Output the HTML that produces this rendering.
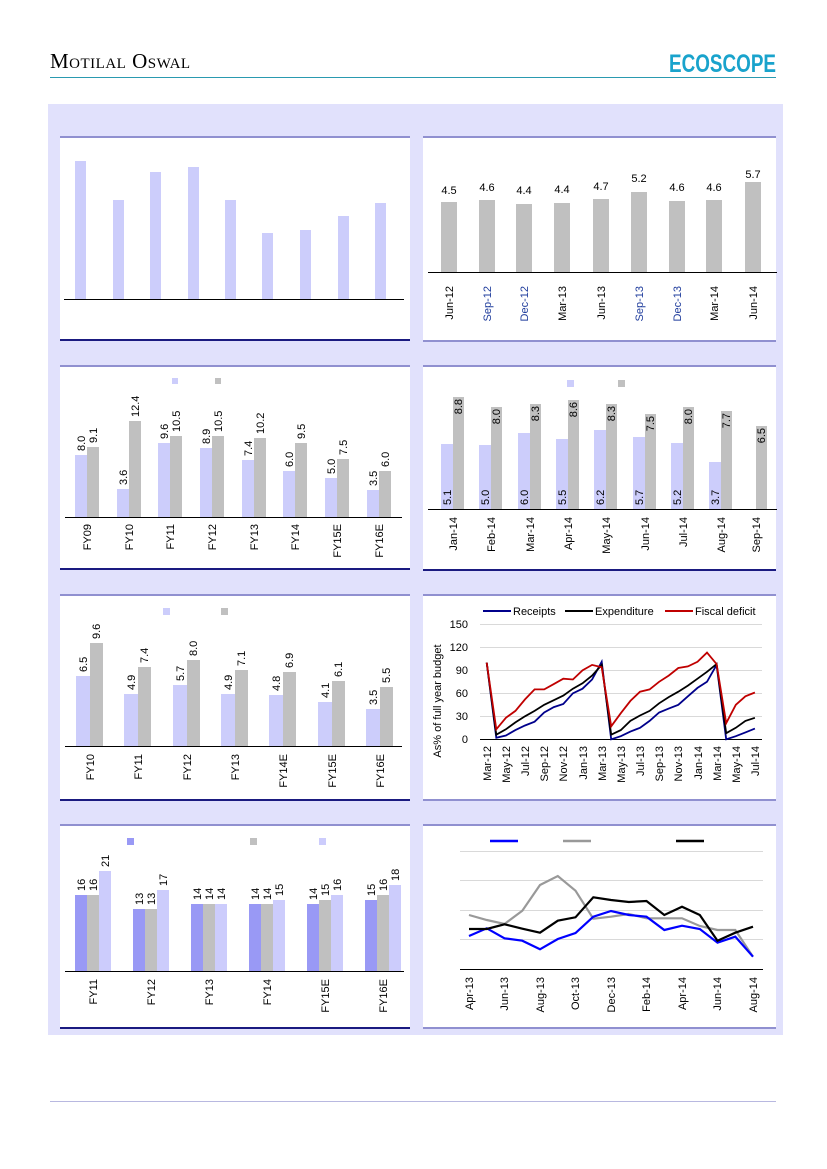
<!DOCTYPE html>
<html><head><meta charset="utf-8"><style>
html,body{margin:0;padding:0;background:#fff}
svg{display:block}
text{font-family:"Liberation Sans",sans-serif;fill:#000}
</style></head><body>
<svg width="827" height="1169" viewBox="0 0 827 1169" xmlns="http://www.w3.org/2000/svg">
<text x="50" y="68" style="font-family:'Liberation Serif',serif;font-variant:small-caps;font-size:21px;letter-spacing:0.5px" fill="#222">Motilal Oswal</text>
<text x="669" y="72" textLength="107" lengthAdjust="spacingAndGlyphs" style="font-weight:bold;font-size:25px;fill:#19a3cc">ECOSCOPE</text>
<line x1="50" y1="77.5" x2="776" y2="77.5" stroke="#2a9ab0" stroke-width="1"/>
<line x1="50" y1="1101.5" x2="776" y2="1101.5" stroke="#b8b8e0" stroke-width="1"/>
<rect x="48" y="104" width="735" height="931" fill="#e1e1fc"/>
<g fill="#fff">
<rect x="60" y="137" width="350" height="203"/><rect x="423" y="137" width="353" height="204"/>
<rect x="60" y="366" width="350" height="203"/><rect x="423" y="366" width="353" height="204"/>
<rect x="60" y="595" width="350" height="205"/><rect x="423" y="595" width="353" height="205"/>
<rect x="60" y="825" width="350" height="203"/><rect x="423" y="825" width="353" height="203"/>
</g>
<g stroke="#9090d0" stroke-width="2">
<line x1="60" y1="137" x2="410" y2="137"/><line x1="423" y1="137" x2="776" y2="137"/>
<line x1="60" y1="366" x2="410" y2="366"/><line x1="423" y1="366" x2="776" y2="366"/>
<line x1="60" y1="595" x2="410" y2="595"/><line x1="423" y1="595" x2="776" y2="595"/>
<line x1="60" y1="825" x2="410" y2="825"/><line x1="423" y1="825" x2="776" y2="825"/>
<line x1="423" y1="341" x2="776" y2="341"/><line x1="423" y1="800" x2="776" y2="800"/><line x1="423" y1="1028" x2="776" y2="1028"/>
</g>
<g stroke="#1a1a80" stroke-width="2">
<line x1="60" y1="340" x2="410" y2="340"/><line x1="60" y1="569" x2="410" y2="569"/><line x1="423" y1="570" x2="776" y2="570"/><line x1="60" y1="800" x2="410" y2="800"/><line x1="60" y1="1028" x2="410" y2="1028"/>
</g>

<g fill="#cccdfb">
<rect x="75" y="161" width="11" height="138"/><rect x="113" y="200" width="11" height="99"/><rect x="150" y="172" width="11" height="127"/><rect x="188" y="167" width="11" height="132"/><rect x="225" y="200" width="11" height="99"/><rect x="262" y="233" width="11" height="66"/><rect x="300" y="230" width="11" height="69"/><rect x="338" y="216" width="11" height="83"/><rect x="375" y="203" width="11" height="96"/>
</g>
<line x1="64" y1="299.5" x2="404" y2="299.5" stroke="#000"/>

<g fill="#c0c0c0">
<rect x="441" y="202" width="16" height="70"/><rect x="479" y="200" width="16" height="72"/><rect x="516" y="204" width="16" height="68"/><rect x="554" y="203" width="16" height="69"/><rect x="593" y="199" width="16" height="73"/><rect x="631" y="192" width="16" height="80"/><rect x="669" y="201" width="16" height="71"/><rect x="706" y="200" width="16" height="72"/><rect x="745" y="182" width="16" height="90"/>
</g>
<line x1="428" y1="272.5" x2="777" y2="272.5" stroke="#000"/>
<g font-size="11" text-anchor="middle">
<text x="449" y="194">4.5</text><text x="487" y="191">4.6</text><text x="524" y="194">4.4</text><text x="562" y="193">4.4</text><text x="601" y="190">4.7</text><text x="639" y="182">5.2</text><text x="677" y="191">4.6</text><text x="714" y="191">4.6</text><text x="753" y="178">5.7</text>
</g>
<g font-size="11" text-anchor="end">
<text transform="translate(453,286) rotate(-90)">Jun-12</text><text transform="translate(491,286) rotate(-90)" style="fill:#1f3c9c">Sep-12</text><text transform="translate(528,286) rotate(-90)" style="fill:#1f3c9c">Dec-12</text><text transform="translate(566,286) rotate(-90)">Mar-13</text><text transform="translate(605,286) rotate(-90)">Jun-13</text><text transform="translate(643,286) rotate(-90)" style="fill:#1f3c9c">Sep-13</text><text transform="translate(681,286) rotate(-90)" style="fill:#1f3c9c">Dec-13</text><text transform="translate(718,286) rotate(-90)">Mar-14</text><text transform="translate(757,286) rotate(-90)">Jun-14</text>
</g>

<rect x="172" y="378" width="6" height="6" fill="#cccdfb"/><rect x="215" y="378" width="6" height="6" fill="#c0c0c0"/>
<g fill="#cccdfb">
<rect x="75" y="455" width="12" height="62"/><rect x="117" y="489" width="12" height="28"/><rect x="158" y="443" width="12" height="74"/><rect x="200" y="448" width="12" height="69"/><rect x="242" y="460" width="12" height="57"/><rect x="283" y="471" width="12" height="46"/><rect x="325" y="478" width="12" height="39"/><rect x="367" y="490" width="12" height="27"/>
</g>
<g fill="#c0c0c0">
<rect x="87" y="447" width="12" height="70"/><rect x="129" y="421" width="12" height="96"/><rect x="170" y="436" width="12" height="81"/><rect x="212" y="436" width="12" height="81"/><rect x="254" y="438" width="12" height="79"/><rect x="295" y="443" width="12" height="74"/><rect x="337" y="459" width="12" height="58"/><rect x="379" y="471" width="12" height="46"/>
</g>
<line x1="65" y1="517.5" x2="402" y2="517.5" stroke="#000"/>
<g font-size="11">
<text transform="translate(85,451) rotate(-90)">8.0</text><text transform="translate(97,443) rotate(-90)">9.1</text>
<text transform="translate(127,485) rotate(-90)">3.6</text><text transform="translate(139,417) rotate(-90)">12.4</text>
<text transform="translate(168,439) rotate(-90)">9.6</text><text transform="translate(180,432) rotate(-90)">10.5</text>
<text transform="translate(210,444) rotate(-90)">8.9</text><text transform="translate(222,432) rotate(-90)">10.5</text>
<text transform="translate(252,456) rotate(-90)">7.4</text><text transform="translate(264,434) rotate(-90)">10.2</text>
<text transform="translate(293,467) rotate(-90)">6.0</text><text transform="translate(305,439) rotate(-90)">9.5</text>
<text transform="translate(335,474) rotate(-90)">5.0</text><text transform="translate(347,455) rotate(-90)">7.5</text>
<text transform="translate(377,486) rotate(-90)">3.5</text><text transform="translate(389,467) rotate(-90)">6.0</text>
</g>
<g font-size="11" text-anchor="end">
<text transform="translate(91,524) rotate(-90)">FY09</text><text transform="translate(133,524) rotate(-90)">FY10</text><text transform="translate(174,524) rotate(-90)">FY11</text><text transform="translate(216,524) rotate(-90)">FY12</text><text transform="translate(258,524) rotate(-90)">FY13</text><text transform="translate(299,524) rotate(-90)">FY14</text><text transform="translate(341,524) rotate(-90)">FY15E</text><text transform="translate(383,524) rotate(-90)">FY16E</text>
</g>

<rect x="567" y="380" width="7" height="7" fill="#cccdfb"/><rect x="618" y="380" width="7" height="7" fill="#c0c0c0"/>
<g fill="#cccdfb">
<rect x="441" y="444" width="12" height="65"/><rect x="479" y="445" width="12" height="64"/><rect x="518" y="433" width="12" height="76"/><rect x="556" y="439" width="12" height="70"/><rect x="594" y="430" width="12" height="79"/><rect x="633" y="437" width="12" height="72"/><rect x="671" y="443" width="12" height="66"/><rect x="709" y="462" width="12" height="47"/>
</g>
<g fill="#c0c0c0">
<rect x="453" y="397" width="11" height="112"/><rect x="491" y="407" width="11" height="102"/><rect x="530" y="404" width="11" height="105"/><rect x="568" y="400" width="11" height="109"/><rect x="606" y="404" width="11" height="105"/><rect x="645" y="414" width="11" height="95"/><rect x="683" y="407" width="11" height="102"/><rect x="721" y="411" width="11" height="98"/><rect x="756" y="426" width="11" height="83"/>
</g>
<line x1="428" y1="509.5" x2="777" y2="509.5" stroke="#000"/>
<g font-size="11">
<text transform="translate(451,505) rotate(-90)">5.1</text><text transform="translate(489,505) rotate(-90)">5.0</text><text transform="translate(528,505) rotate(-90)">6.0</text><text transform="translate(566,505) rotate(-90)">5.5</text><text transform="translate(604,505) rotate(-90)">6.2</text><text transform="translate(643,505) rotate(-90)">5.7</text><text transform="translate(681,505) rotate(-90)">5.2</text><text transform="translate(719,505) rotate(-90)">3.7</text>
</g>
<g font-size="11" text-anchor="end">
<text transform="translate(462,399) rotate(-90)">8.8</text><text transform="translate(500,409) rotate(-90)">8.0</text><text transform="translate(539,406) rotate(-90)">8.3</text><text transform="translate(577,402) rotate(-90)">8.6</text><text transform="translate(615,406) rotate(-90)">8.3</text><text transform="translate(654,416) rotate(-90)">7.5</text><text transform="translate(692,409) rotate(-90)">8.0</text><text transform="translate(730,413) rotate(-90)">7.7</text><text transform="translate(765,428) rotate(-90)">6.5</text>
<text transform="translate(457,517) rotate(-90)">Jan-14</text><text transform="translate(495,517) rotate(-90)">Feb-14</text><text transform="translate(534,517) rotate(-90)">Mar-14</text><text transform="translate(572,517) rotate(-90)">Apr-14</text><text transform="translate(610,517) rotate(-90)">May-14</text><text transform="translate(649,517) rotate(-90)">Jun-14</text><text transform="translate(687,517) rotate(-90)">Jul-14</text><text transform="translate(725,517) rotate(-90)">Aug-14</text><text transform="translate(760,517) rotate(-90)">Sep-14</text>
</g>

<rect x="163" y="608" width="7" height="7" fill="#cccdfb"/><rect x="221" y="608" width="7" height="7" fill="#c0c0c0"/>
<g fill="#cccdfb">
<rect x="76" y="676" width="14" height="70"/><rect x="124" y="694" width="14" height="52"/><rect x="173" y="685" width="14" height="61"/><rect x="221" y="694" width="14" height="52"/><rect x="269" y="695" width="14" height="51"/><rect x="318" y="702" width="14" height="44"/><rect x="366" y="709" width="14" height="37"/>
</g>
<g fill="#c0c0c0">
<rect x="90" y="643" width="13" height="103"/><rect x="138" y="667" width="13" height="79"/><rect x="187" y="660" width="13" height="86"/><rect x="235" y="670" width="13" height="76"/><rect x="283" y="672" width="13" height="74"/><rect x="332" y="681" width="13" height="65"/><rect x="380" y="687" width="13" height="59"/>
</g>
<line x1="65" y1="746.5" x2="402" y2="746.5" stroke="#000"/>
<g font-size="11">
<text transform="translate(87,672) rotate(-90)">6.5</text><text transform="translate(100,639) rotate(-90)">9.6</text>
<text transform="translate(135,690) rotate(-90)">4.9</text><text transform="translate(148,663) rotate(-90)">7.4</text>
<text transform="translate(184,681) rotate(-90)">5.7</text><text transform="translate(197,656) rotate(-90)">8.0</text>
<text transform="translate(232,690) rotate(-90)">4.9</text><text transform="translate(245,666) rotate(-90)">7.1</text>
<text transform="translate(280,691) rotate(-90)">4.8</text><text transform="translate(293,668) rotate(-90)">6.9</text>
<text transform="translate(329,698) rotate(-90)">4.1</text><text transform="translate(342,677) rotate(-90)">6.1</text>
<text transform="translate(377,705) rotate(-90)">3.5</text><text transform="translate(390,683) rotate(-90)">5.5</text>
</g>
<g font-size="11" text-anchor="end">
<text transform="translate(94,754) rotate(-90)">FY10</text><text transform="translate(142,754) rotate(-90)">FY11</text><text transform="translate(191,754) rotate(-90)">FY12</text><text transform="translate(239,754) rotate(-90)">FY13</text><text transform="translate(287,754) rotate(-90)">FY14E</text><text transform="translate(336,754) rotate(-90)">FY15E</text><text transform="translate(384,754) rotate(-90)">FY16E</text>
</g>

<g stroke="#d9d9d9">
<line x1="480" y1="624.5" x2="762" y2="624.5"/><line x1="480" y1="647.5" x2="762" y2="647.5"/><line x1="480" y1="670.5" x2="762" y2="670.5"/><line x1="480" y1="693.5" x2="762" y2="693.5"/><line x1="480" y1="716.5" x2="762" y2="716.5"/>
</g>
<line x1="480" y1="739.5" x2="762" y2="739.5" stroke="#000"/>
<g font-size="11" text-anchor="end">
<text x="468" y="628">150</text><text x="468" y="651">120</text><text x="468" y="674">90</text><text x="468" y="697">60</text><text x="468" y="720">30</text><text x="468" y="743">0</text>
</g>
<text transform="translate(441,701) rotate(-90)" font-size="11" text-anchor="middle">As% of full year budget</text>
<polyline fill="none" stroke="#00008b" stroke-width="1.8" points="486.7,662.6 496.3,737.8 505.9,735.5 515.4,730.1 525,725.5 534.6,721.7 544.2,712.5 553.8,707.1 563.3,704 572.9,693.3 582.5,688.7 592.1,679.5 601.7,661.8 611.2,739.3 620.8,736.2 630.4,731.6 640,727.8 649.6,720.9 659.1,712.5 668.7,708.6 678.3,704.8 687.9,696.3 697.5,687.9 707,681.8 716.6,664.9 726.2,739.3 735.8,736.2 745.4,732.4 754.9,728.6"/>
<polyline fill="none" stroke="#000" stroke-width="1.8" points="486.7,662.6 496.3,734.7 505.9,729.3 515.4,722.4 525,716.3 534.6,710.9 544.2,704.8 553.8,700.2 563.3,695.6 572.9,688.7 582.5,683.3 592.1,675.6 601.7,664.9 611.2,734.7 620.8,730.1 630.4,720.9 640,715.5 649.6,710.9 659.1,703.3 668.7,697.1 678.3,691.7 687.9,685.6 697.5,678.7 707,671.8 716.6,664.1 726.2,733.2 735.8,727.8 745.4,720.9 754.9,717.8"/>
<polyline fill="none" stroke="#c00000" stroke-width="1.8" points="486.7,662.6 496.3,729.3 505.9,717.8 515.4,710.9 525,699.4 534.6,689.4 544.2,689.4 553.8,684.1 563.3,678.7 572.9,679.5 582.5,670.3 592.1,664.9 601.7,667.2 611.2,726.3 620.8,713.2 630.4,700.9 640,691.7 649.6,689.4 659.1,681.8 668.7,675.6 678.3,668 687.9,666.4 697.5,661.8 707,652.6 716.6,664.1 726.2,723.2 735.8,704.8 745.4,696.3 754.9,692.5"/>
<g font-size="11" text-anchor="end">
<text transform="translate(491,746) rotate(-90)">Mar-12</text><text transform="translate(510,746) rotate(-90)">May-12</text><text transform="translate(529,746) rotate(-90)">Jul-12</text><text transform="translate(548,746) rotate(-90)">Sep-12</text><text transform="translate(567,746) rotate(-90)">Nov-12</text><text transform="translate(587,746) rotate(-90)">Jan-13</text><text transform="translate(606,746) rotate(-90)">Mar-13</text><text transform="translate(625,746) rotate(-90)">May-13</text><text transform="translate(644,746) rotate(-90)">Jul-13</text><text transform="translate(663,746) rotate(-90)">Sep-13</text><text transform="translate(682,746) rotate(-90)">Nov-13</text><text transform="translate(702,746) rotate(-90)">Jan-14</text><text transform="translate(721,746) rotate(-90)">Mar-14</text><text transform="translate(740,746) rotate(-90)">May-14</text><text transform="translate(759,746) rotate(-90)">Jul-14</text>
</g>
<line x1="483" y1="611" x2="511" y2="611" stroke="#00008b" stroke-width="2"/><text x="513" y="615" font-size="11">Receipts</text>
<line x1="565" y1="611" x2="593" y2="611" stroke="#000" stroke-width="2"/><text x="595" y="615" font-size="11">Expenditure</text>
<line x1="665" y1="611" x2="693" y2="611" stroke="#c00000" stroke-width="2"/><text x="695" y="615" font-size="11">Fiscal deficit</text>

<rect x="127" y="838" width="7" height="7" fill="#9999f5"/><rect x="250" y="838" width="7" height="7" fill="#c0c0c0"/><rect x="319" y="838" width="7" height="7" fill="#ccccfc"/>
<g fill="#9999f5">
<rect x="75" y="895" width="12" height="76"/><rect x="133" y="909" width="12" height="62"/><rect x="191" y="904" width="12" height="67"/><rect x="249" y="904" width="12" height="67"/><rect x="307" y="904" width="12" height="67"/><rect x="365" y="900" width="12" height="71"/>
</g>
<g fill="#c0c0c0">
<rect x="87" y="895" width="12" height="76"/><rect x="145" y="909" width="12" height="62"/><rect x="203" y="904" width="12" height="67"/><rect x="261" y="904" width="12" height="67"/><rect x="319" y="900" width="12" height="71"/><rect x="377" y="895" width="12" height="76"/>
</g>
<g fill="#ccccfc">
<rect x="99" y="871" width="12" height="100"/><rect x="157" y="890" width="12" height="81"/><rect x="215" y="904" width="12" height="67"/><rect x="273" y="900" width="12" height="71"/><rect x="331" y="895" width="12" height="76"/><rect x="389" y="885" width="12" height="86"/>
</g>
<line x1="65" y1="971.5" x2="404" y2="971.5" stroke="#000"/>
<g font-size="11">
<text transform="translate(85,891) rotate(-90)">16</text><text transform="translate(97,891) rotate(-90)">16</text><text transform="translate(109,867) rotate(-90)">21</text>
<text transform="translate(143,905) rotate(-90)">13</text><text transform="translate(155,905) rotate(-90)">13</text><text transform="translate(167,886) rotate(-90)">17</text>
<text transform="translate(201,900) rotate(-90)">14</text><text transform="translate(213,900) rotate(-90)">14</text><text transform="translate(225,900) rotate(-90)">14</text>
<text transform="translate(259,900) rotate(-90)">14</text><text transform="translate(271,900) rotate(-90)">14</text><text transform="translate(283,896) rotate(-90)">15</text>
<text transform="translate(317,900) rotate(-90)">14</text><text transform="translate(329,896) rotate(-90)">15</text><text transform="translate(341,891) rotate(-90)">16</text>
<text transform="translate(375,896) rotate(-90)">15</text><text transform="translate(387,891) rotate(-90)">16</text><text transform="translate(399,881) rotate(-90)">18</text>
</g>
<g font-size="11" text-anchor="end">
<text transform="translate(97,979) rotate(-90)">FY11</text><text transform="translate(155,979) rotate(-90)">FY12</text><text transform="translate(213,979) rotate(-90)">FY13</text><text transform="translate(271,979) rotate(-90)">FY14</text><text transform="translate(329,979) rotate(-90)">FY15E</text><text transform="translate(387,979) rotate(-90)">FY16E</text>
</g>

<g stroke="#d9d9d9">
<line x1="460" y1="851.5" x2="763" y2="851.5"/><line x1="460" y1="880.5" x2="763" y2="880.5"/><line x1="460" y1="910.5" x2="763" y2="910.5"/><line x1="460" y1="939.5" x2="763" y2="939.5"/>
</g>
<line x1="460" y1="969.5" x2="763" y2="969.5" stroke="#000"/>
<polyline fill="none" stroke="#999" stroke-width="2.2" points="469,915 486.8,920 504.5,924 522.3,910.7 540,885 557.8,876 575.5,890.7 593.3,918.7 611,916.7 628.8,914 646.5,918.3 664.3,918.3 682,918.3 699.8,926 717.5,930 735.3,930 753,956.7"/>
<polyline fill="none" stroke="#0000ff" stroke-width="2.2" points="469,936 486.8,928.3 504.5,938.3 522.3,940.7 540,949.3 557.8,939 575.5,933 593.3,916.7 611,911 628.8,915 646.5,916.7 664.3,930 682,925.7 699.8,929 717.5,942.7 735.3,936.7 753,956.7"/>
<polyline fill="none" stroke="#000" stroke-width="2.2" points="469,929 486.8,929 504.5,924.3 522.3,928.7 540,932.7 557.8,920.7 575.5,917.3 593.3,897.3 611,900 628.8,902 646.5,901 664.3,915 682,906.7 699.8,915 717.5,940.7 735.3,932.7 753,926.7"/>
<line x1="490" y1="841" x2="518" y2="841" stroke="#0000ff" stroke-width="2.5"/><line x1="563" y1="841" x2="591" y2="841" stroke="#999" stroke-width="2.5"/><line x1="676" y1="841" x2="704" y2="841" stroke="#000" stroke-width="2.5"/>
<g font-size="11" text-anchor="end">
<text transform="translate(473,977) rotate(-90)">Apr-13</text><text transform="translate(508,977) rotate(-90)">Jun-13</text><text transform="translate(544,977) rotate(-90)">Aug-13</text><text transform="translate(579,977) rotate(-90)">Oct-13</text><text transform="translate(615,977) rotate(-90)">Dec-13</text><text transform="translate(650,977) rotate(-90)">Feb-14</text><text transform="translate(686,977) rotate(-90)">Apr-14</text><text transform="translate(721,977) rotate(-90)">Jun-14</text><text transform="translate(757,977) rotate(-90)">Aug-14</text>
</g>
</svg>
</body></html>
